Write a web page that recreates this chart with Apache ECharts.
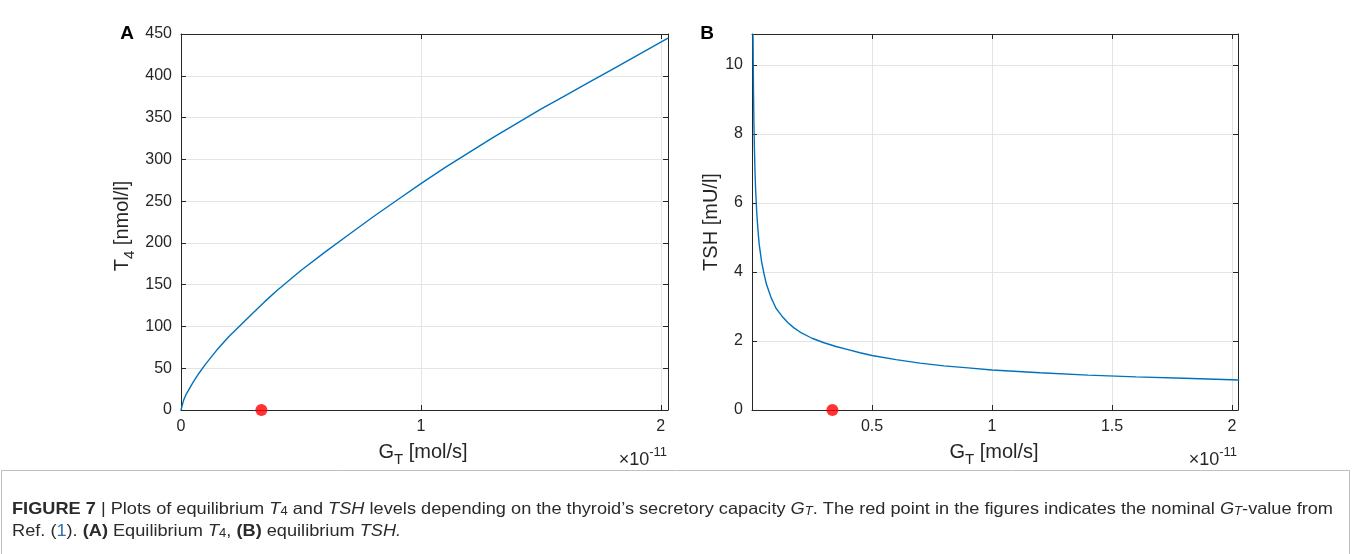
<!DOCTYPE html>
<html><head><meta charset="utf-8">
<script src="https://cdn.jsdelivr.net/npm/echarts@6/dist/echarts.min.js"></script>
<style>html,body{margin:0;padding:0;background:#fff}#chart{width:1352px;height:554px}</style>
</head><body><div id="chart"></div>
<script>
// ---- data (G_T in units of 1e-11 mol/s) ----
const gtA = [0, 0.01, 0.02, 0.03, 0.05, 0.075, 0.1, 0.15, 0.2, 0.25, 0.3, 0.35, 0.4, 0.45, 0.5, 0.6, 0.7, 0.8, 0.9, 1.0, 1.1, 1.2, 1.3, 1.4, 1.5, 1.6, 1.7, 1.8, 1.9, 2.03];
const t4  = [0, 11, 18, 23, 33, 44, 54, 72, 88, 102, 116, 130, 143, 155, 167, 189, 210, 231, 251, 271, 290, 308, 326, 343, 360, 376, 392, 408, 424, 445];
const gtB = [0.0042, 0.005, 0.006, 0.008, 0.01, 0.0125, 0.015, 0.02, 0.025, 0.03, 0.04, 0.05, 0.06, 0.07, 0.08, 0.09, 0.1, 0.125, 0.15, 0.175, 0.2, 0.25, 0.3, 0.35, 0.4, 0.45, 0.5, 0.6, 0.7, 0.8, 0.9, 1.0, 1.2, 1.4, 1.6, 1.8, 2.03];
const tsh = [10.9, 10.2, 9.4, 8.3, 7.6, 6.9, 6.4, 5.7, 5.2, 4.8, 4.3, 3.95, 3.65, 3.45, 3.25, 3.1, 2.95, 2.72, 2.53, 2.38, 2.26, 2.08, 1.95, 1.84, 1.75, 1.66, 1.58, 1.46, 1.36, 1.28, 1.22, 1.16, 1.08, 1.01, 0.96, 0.92, 0.87];
const nominalGT = 0.335;
const xTicksA = [0, 1, 2];
const yTicksA = [0, 50, 100, 150, 200, 250, 300, 350, 400, 450];
const xTicksB = [0.5, 1, 1.5, 2];
const yTicksB = [0, 2, 4, 6, 8, 10];

const FF = '"Liberation Sans", Arial, Helvetica, sans-serif';
const axisColor = '#262626';
const gridColor = '#e4e4e4';
const lineColor = '#0072BD';

const mctx = document.createElement('canvas').getContext('2d');
function fontStr(r, fam) { return (r.italic ? 'italic ' : '') + (r.bold ? 'bold ' : '') + r.size + 'px ' + (r.family || fam); }
function layoutRuns(runs, opt) {
  const fam = opt.family || FF;
  const widths = runs.map(r => { mctx.font = fontStr(r, fam); return mctx.measureText(r.t).width; });
  const total = widths.reduce((a, b) => a + b, 0);
  let cx = opt.align === 'center' ? -total / 2 : opt.align === 'right' ? -total : 0;
  const children = [];
  runs.forEach((r, i) => {
    children.push({ type: 'text', x: cx, y: r.dy || 0, silent: true,
      style: { text: r.t, font: fontStr(r, fam), fill: r.color || opt.color || axisColor,
               textAlign: 'left', align: 'left', textVerticalAlign: 'middle', verticalAlign: 'middle' } });
    cx += widths[i];
  });
  return { type: 'group', x: opt.x, y: opt.y, rotation: opt.rotation || 0, scaleX: opt.scaleX || 1, children, _w: total };
}

function fmt(ticks) { return v => ticks.some(t => Math.abs(t - v) < 1e-9) ? String(v) : ''; }
function xAx(gi, min, max, interval, ticks, pos) {
  const main = pos === 'bottom';
  return { type: 'value', gridIndex: gi, position: pos, min, max, interval,
    axisLine: { show: true, onZero: false, lineStyle: { color: axisColor, width: 1 } },
    axisTick: { show: true, inside: true, length: 5, lineStyle: { color: axisColor } },
    axisLabel: { show: main, formatter: fmt(ticks), color: axisColor, fontSize: 16, fontFamily: FF, margin: 9 },
    splitLine: { show: main, lineStyle: { color: gridColor, width: 1 } } };
}
function yAx(gi, min, max, interval, ticks, pos) {
  const main = pos === 'left';
  return { type: 'value', gridIndex: gi, position: pos, min, max, interval,
    axisLine: { show: true, onZero: false, lineStyle: { color: axisColor, width: 1 } },
    axisTick: { show: true, inside: true, length: 5, lineStyle: { color: axisColor } },
    axisLabel: { show: main, formatter: fmt(ticks), color: axisColor, fontSize: 16, fontFamily: FF, margin: 9 },
    splitLine: { show: main, lineStyle: { color: gridColor, width: 1 } } };
}

const chart = echarts.init(document.getElementById('chart'), null, { renderer: 'canvas' });

// caption: Liberation Sans, horizontally condensed to the caption width
const capColor = '#2b2b2b';
function cap1(s) {
  const sub = s * 0.72;
  return [
    { t: 'FIGURE 7', bold: true, size: s }, { t: ' | Plots of equilibrium ', size: s },
    { t: 'T', italic: true, size: s }, { t: '4', size: sub, dy: 3 },
    { t: ' and ', size: s }, { t: 'TSH', italic: true, size: s },
    { t: ' levels depending on the thyroid\u2019s secretory capacity ', size: s },
    { t: 'G', italic: true, size: s }, { t: 'T', italic: true, size: sub, dy: 3 },
    { t: '. The red point in the figures indicates the nominal ', size: s },
    { t: 'G', italic: true, size: s }, { t: 'T', italic: true, size: sub, dy: 3 },
    { t: '-value from', size: s }];
}
function cap2(s) {
  const sub = s * 0.72;
  return [
    { t: 'Ref. (', size: s }, { t: '1', size: s, color: '#2f6db5' }, { t: '). ', size: s },
    { t: '(A)', bold: true, size: s }, { t: ' Equilibrium ', size: s },
    { t: 'T', italic: true, size: s }, { t: '4', size: sub, dy: 3 }, { t: ', ', size: s },
    { t: '(B)', bold: true, size: s }, { t: ' equilibrium ', size: s },
    { t: 'TSH.', italic: true, size: s }];
}
const capSize = 16.5;
const probe = layoutRuns(cap1(capSize), { x: 0, y: 0 });
const capScale = 1321 / probe._w;

const gx = 20, gsub = 15;
const graphics = [
  layoutRuns([{ t: 'A', bold: true, size: 19 }], { x: 127, y: 34, align: 'center', color: '#000' }),
  layoutRuns([{ t: 'B', bold: true, size: 19 }], { x: 707, y: 34, align: 'center', color: '#000' }),
  layoutRuns([{ t: 'G', size: gx }, { t: 'T', size: gsub, dy: 8 }, { t: ' [mol/s]', size: gx }], { x: 423, y: 452, align: 'center' }),
  layoutRuns([{ t: 'G', size: gx }, { t: 'T', size: gsub, dy: 8 }, { t: ' [mol/s]', size: gx }], { x: 994, y: 452, align: 'center' }),
  layoutRuns([{ t: 'T', size: gx }, { t: '4', size: gsub, dy: 8 }, { t: ' [nmol/l]', size: gx }], { x: 122, y: 226, align: 'center', rotation: Math.PI / 2 }),
  layoutRuns([{ t: 'TSH [mU/l]', size: gx }], { x: 711, y: 222, align: 'center', rotation: Math.PI / 2 }),
  layoutRuns([{ t: '\u00d710', size: 18 }, { t: '-11', size: 13, dy: -8 }], { x: 667, y: 460, align: 'right' }),
  layoutRuns([{ t: '\u00d710', size: 18 }, { t: '-11', size: 13, dy: -8 }], { x: 1237, y: 460, align: 'right' }),
  layoutRuns(cap1(capSize), { x: 12, y: 509, color: capColor, scaleX: capScale }),
  layoutRuns(cap2(capSize), { x: 12, y: 531, color: capColor, scaleX: capScale }),
  { type: 'rect', shape: { x: 1.5, y: 470.5, width: 1348, height: 90 }, style: { fill: 'none', stroke: '#bfbfbf', lineWidth: 1 }, silent: true }
];

const option = {
  animation: false,
  backgroundColor: '#ffffff',
  grid: [
    { left: 181, top: 34, width: 487, height: 376, containLabel: false },
    { left: 752, top: 34, width: 486, height: 376, containLabel: false }
  ],
  xAxis: [
    xAx(0, 0, 2.03, 1, xTicksA, 'bottom'), xAx(0, 0, 2.03, 1, xTicksA, 'top'),
    xAx(1, 0, 2.025, 0.5, xTicksB, 'bottom'), xAx(1, 0, 2.025, 0.5, xTicksB, 'top')
  ],
  yAxis: [
    yAx(0, 0, 450, 50, yTicksA, 'left'), yAx(0, 0, 450, 50, yTicksA, 'right'),
    yAx(1, 0, 10.9, 2, yTicksB, 'left'), yAx(1, 0, 10.9, 2, yTicksB, 'right')
  ],
  series: [
    { type: 'line', xAxisIndex: 0, yAxisIndex: 0, data: gtA.map((g, i) => [g, t4[i]]), showSymbol: false,
      smooth: false, lineStyle: { color: lineColor, width: 1.4 }, z: 3 },
    { type: 'line', xAxisIndex: 2, yAxisIndex: 2, data: gtB.map((g, i) => [g, tsh[i]]), showSymbol: false,
      smooth: false, lineStyle: { color: lineColor, width: 1.4 }, z: 3 },
    { type: 'scatter', xAxisIndex: 0, yAxisIndex: 0, data: [[nominalGT, 0]], symbolSize: 12, clip: false,
      itemStyle: { color: '#ff0000' }, z: 10 },
    { type: 'scatter', xAxisIndex: 2, yAxisIndex: 2, data: [[nominalGT, 0]], symbolSize: 12, clip: false,
      itemStyle: { color: '#ff0000' }, z: 10 }
  ],
  graphic: graphics
};
chart.setOption(option);
</script>
</body></html>
